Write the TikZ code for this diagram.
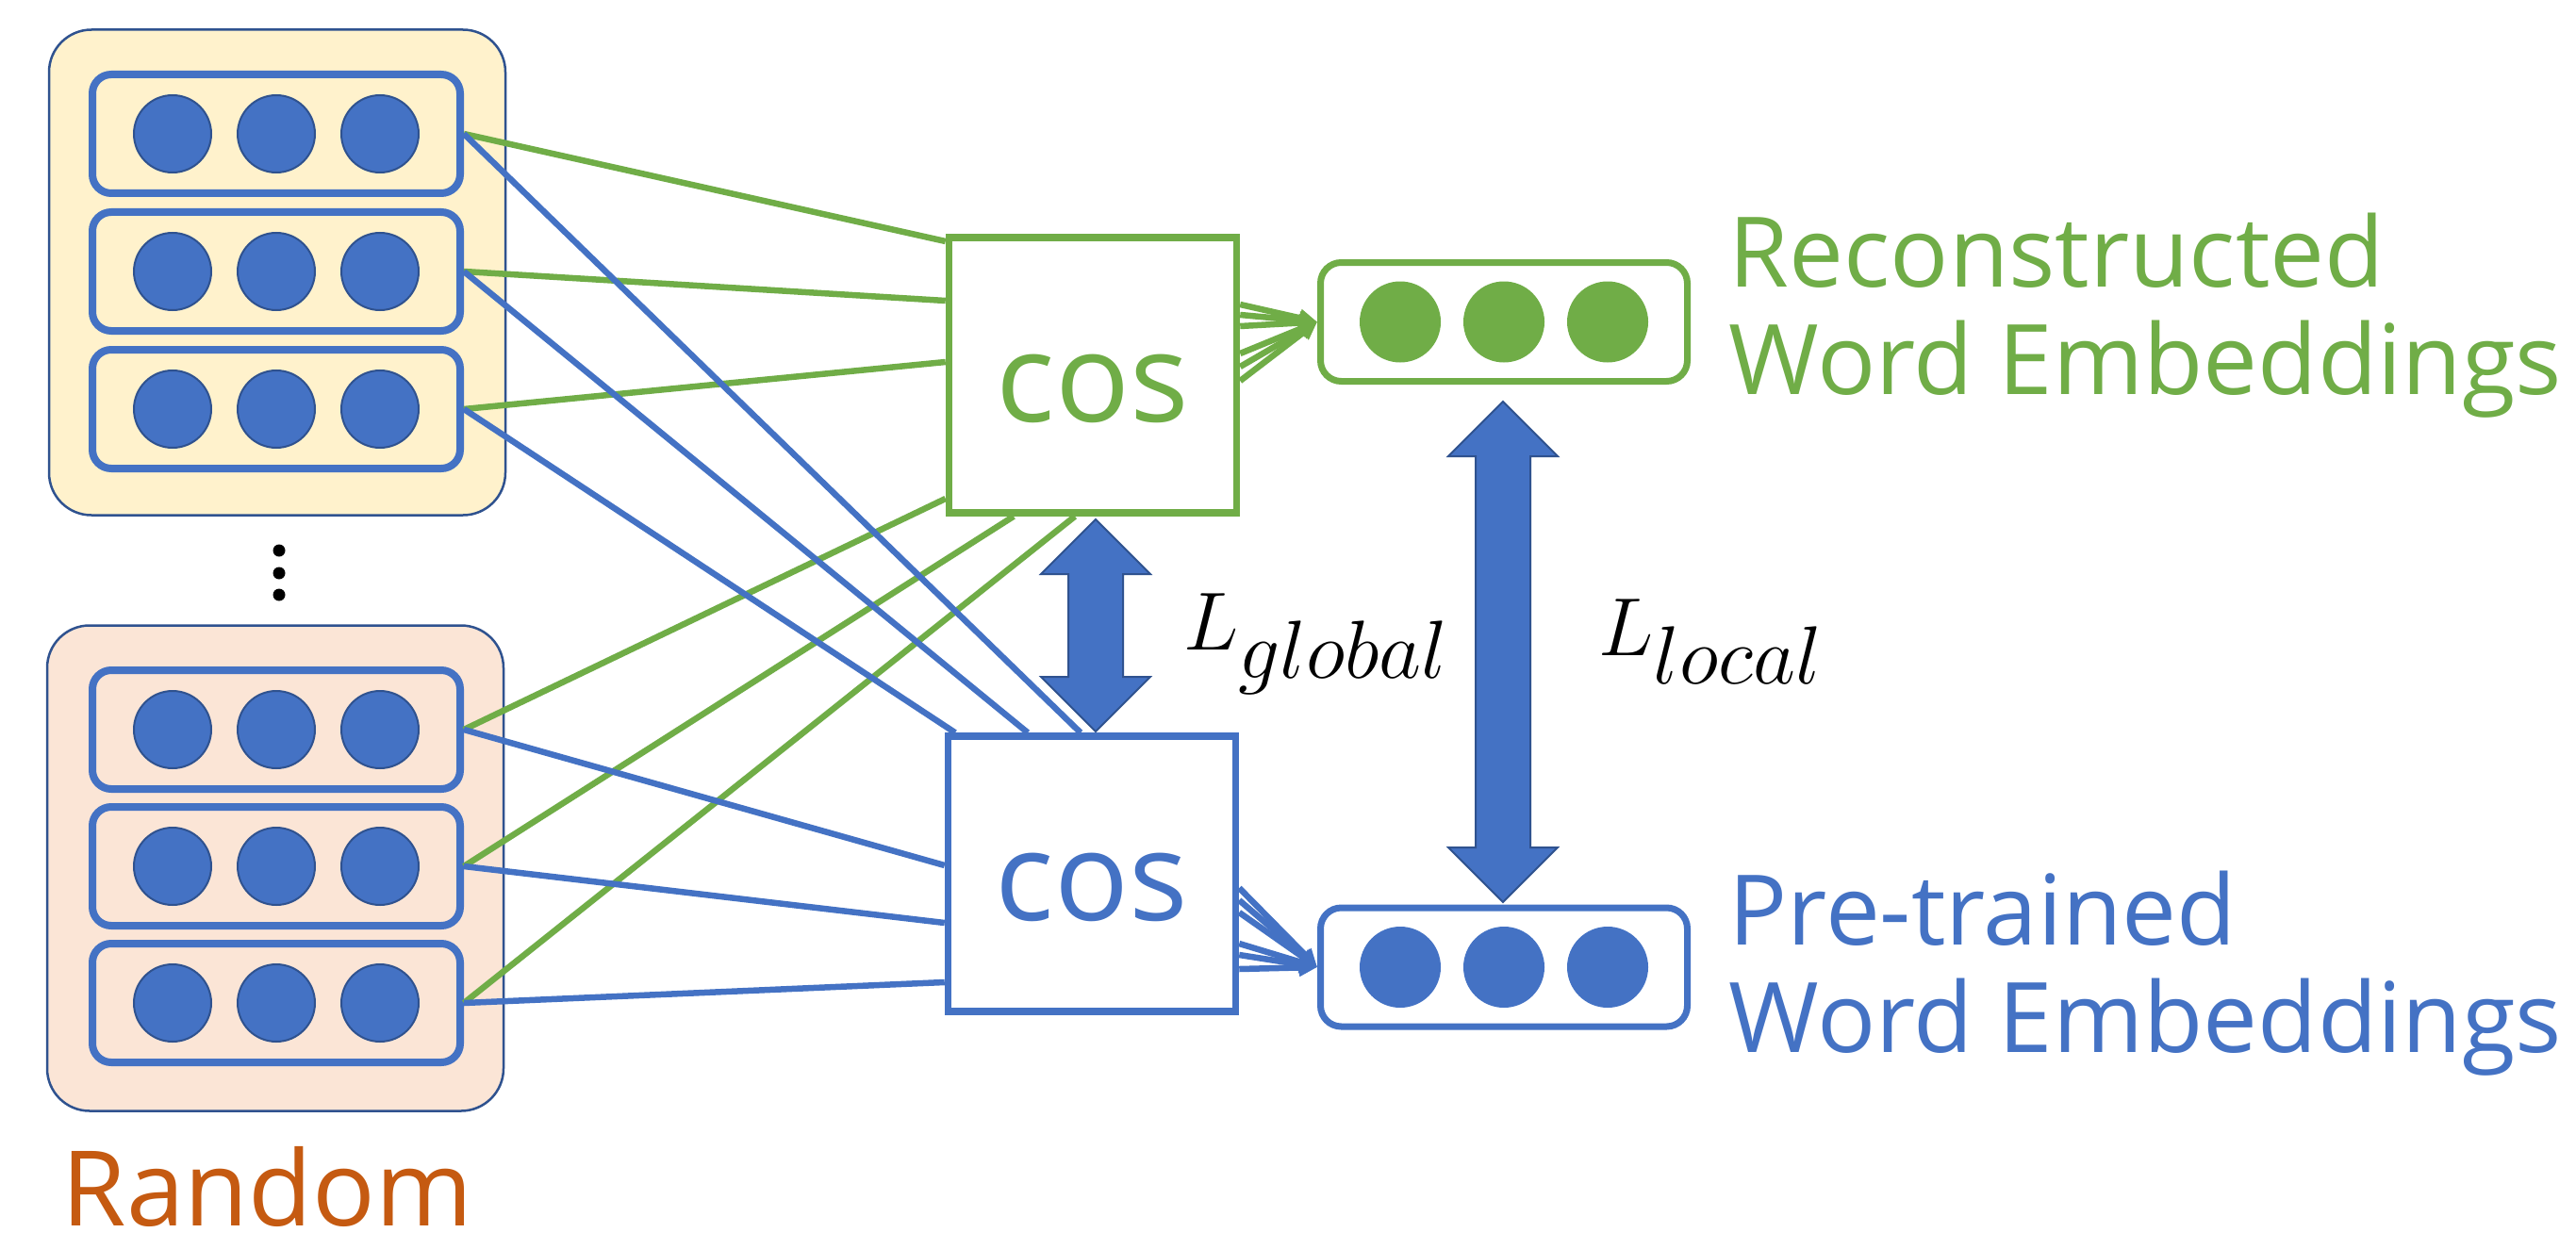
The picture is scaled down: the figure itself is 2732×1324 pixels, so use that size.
\documentclass[tikz,border=0pt]{standalone}
\usepackage{fontspec}
\setmainfont{Open Sans}
\usetikzlibrary{arrows.meta,positioning}
\DeclareMathSizes{25.4}{25.4}{23.5}{16}

\definecolor{recgreen}{HTML}{70AD47}
\definecolor{preblue}{HTML}{4472C4}
\definecolor{edgeblue}{HTML}{2F528F}
\definecolor{randorange}{HTML}{C55A11}
\definecolor{topfill}{HTML}{FFF2CC}
\definecolor{botfill}{HTML}{FBE5D6}

% block double arrow: x, y of upper tip, y of lower tip
\newcommand{\lossarrow}[3]{%
  \filldraw[fill=preblue,draw=edgeblue,line width=0.2mm]
    (#1,#2) -- ++(58,58) -- ++(-29,0) -- ({#1+29},{#3-58}) -- ++(29,0)
    -- (#1,#3) -- ++(-58,-58) -- ++(29,0) -- ({#1-29},{#2+58}) -- ++(-29,0) -- cycle;}

\begin{document}
\begin{tikzpicture}[x=0.1mm,y=-0.1mm,>={Triangle[length=1.9mm,width=1.8mm]},
  grpbox/.style={draw=edgeblue,line width=0.25mm,rounded corners=4.5mm,minimum width=48.4mm,minimum height=51.5mm},
  wordvec/.style={draw=preblue,line width=0.8mm,rounded corners=2mm,minimum width=39mm,minimum height=12.6mm,inner sep=0pt},
  wordunit/.style={circle,fill=preblue,draw=edgeblue,line width=0.2mm,minimum size=8.2mm,inner sep=0pt},
  cosbox/.style={draw,fill=white,line width=0.75mm,minimum width=30.5mm,minimum height=29.2mm,
    text height=9.8mm,text depth=0pt,inner sep=0pt,font=\fontsize{37.3}{40}\selectfont},
  embbox/.style={draw,line width=0.7mm,rounded corners=2.2mm,minimum width=38.9mm,minimum height=12.6mm},
  emb/.style={circle,minimum size=8.6mm,inner sep=0pt},
  wordlabel/.style={align=left,inner sep=0pt,anchor=base west,font=\fontsize{29.4}{32.4}\selectfont},
  losslabel/.style={inner sep=0pt,anchor=base west,font=\fontsize{25.4}{30}\selectfont},
  link/.style={line width=0.65mm}]

  \fill[white] (0,0) rectangle (2732,1324);
  \useasboundingbox (0,0) rectangle (2732,1324);

  % random word vectors
  \node[grpbox,fill=topfill] (topgrp) at (294,289) {};
  \node[grpbox,fill=botfill] (botgrp) at (292,921) {};
  \node[wordvec] (t1) at (293,142) {};
  \node[wordvec,below=1.2mm of t1] (t2) {};
  \node[wordvec,below=1.2mm of t2] (t3) {};
  \node[wordvec] (b1) at (293,774) {};
  \node[wordvec,below=1.1mm of b1] (b2) {};
  \node[wordvec,below=1.1mm of b2] (b3) {};
  \foreach \r in {t1,t2,t3,b1,b2,b3}
    \foreach \i/\dx in {1/-11mm,2/0mm,3/11mm}
      \node[wordunit] (\r-\i) at ([xshift=\dx]\r.center) {};
  \foreach \y in {584,608,631}
    \fill (296,\y) circle[radius=0.65mm];
  \node[inner sep=0pt,anchor=base west,text=randorange,font=\fontsize{31.5}{34}\selectfont] (random) at (65,1300) {Random};

  % similarity boxes
  \node[cosbox,draw=recgreen,text=recgreen] (cosG) at (1159,398) {cos};
  \node[cosbox,draw=preblue,text=preblue] (cosB) at (1158,927) {cos};

  % embeddings
  \node[embbox,draw=recgreen] (embG) at (1595,341.5) {};
  \node[embbox,draw=preblue] (embB) at (1595,1026) {};
  \foreach \i/\dx in {1/-11mm,2/0mm,3/11mm} {
    \node[emb,fill=recgreen] (embG-\i) at ([xshift=\dx]embG.center) {};
    \node[emb,fill=preblue] (embB-\i) at ([xshift=\dx]embB.center) {};
  }
  % base = last line
  \node[wordlabel,text=recgreen] (reclabel) at (1833,418) {Reconstructed\\Word Embeddings};
  \node[wordlabel,text=preblue] (prelabel) at (1833,1116) {Pre-trained\\Word Embeddings};

  % links
  \draw[link,recgreen] (t1.east) -- (cosG.west |- 0,256);
  \draw[link,recgreen] (t2.east) -- (cosG.west |- 0,319);
  \draw[link,recgreen] (t3.east) -- (cosG.west |- 0,384);
  \draw[link,recgreen] (b1.east) -- (cosG.west |- 0,529);
  \draw[link,recgreen] (b2.east) -- (cosG.south -| 1075,0);
  \draw[link,recgreen] (b3.east) -- (cosG.south -| 1140,0);
  \draw[link,preblue] (t1.east) -- (cosB.north -| 1146,0);
  \draw[link,preblue] (t2.east) -- (cosB.north -| 1090,0);
  \draw[link,preblue] (t3.east) -- (cosB.north -| 1013,0);
  \draw[link,preblue] (b1.east) -- (cosB.west |- 0,918);
  \draw[link,preblue] (b2.east) -- (cosB.west |- 0,979);
  \draw[link,preblue] (b3.east) -- (cosB.west |- 0,1042);
  \foreach \y in {323,334,346,375,389,404}
    \draw[link,recgreen,->] (cosG.east |- 0,\y) -- (embG.west);
  \foreach \y in {942,955,968,1001,1013,1028}
    \draw[link,preblue,->] (cosB.east |- 0,\y) -- (embB.west);

  % losses
  \lossarrow{1162}{551}{776}
  \lossarrow{1594}{426}{957}
  \node[losslabel] (lglobal) at (1255,689) {$L_{global}$};
  \node[losslabel] (llocal) at (1695,695) {$L_{local}$};
\end{tikzpicture}
\end{document}
